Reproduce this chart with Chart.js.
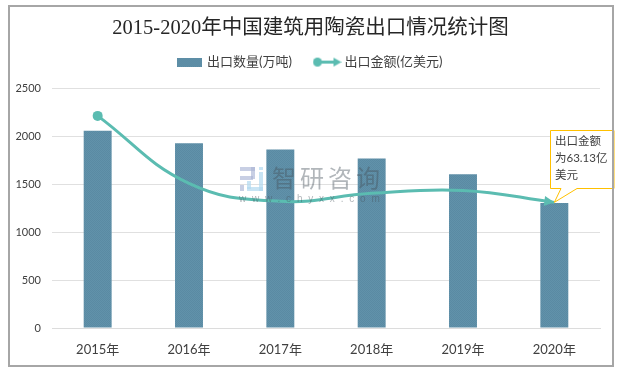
<!DOCTYPE html>
<html>
<head>
<meta charset="utf-8">
<style>
html, body { margin: 0; padding: 0; background: #fff; }
#wrap { position: relative; width: 618px; height: 371px; overflow: hidden; }
#frame { position: absolute; left: 8px; top: 5px; width: 602px; height: 358px; border: 2px solid #a6a6a6; pointer-events: none; }
</style>
<script src="https://cdn.jsdelivr.net/npm/chart.js@4/dist/chart.umd.js"></script>
</head>
<body>
<div id="wrap">
	<canvas id="myChart" width="618" height="371"></canvas>
	<div id="frame"></div>
</div>
<script>
const categories = ["2015年", "2016年", "2017年", "2018年", "2019年", "2020年"];
const quantity = [2060, 1930, 1865, 1770, 1605, 1305];
const amount = [2215, 1510, 1323, 1406, 1437, 1312];
const yTicks = [0, 500, 1000, 1500, 2000, 2500];
const calloutLines = ["出口金额", "为63.13亿", "美元"];
const seriesNames = ["出口数量(万吨)", "出口金额(亿美元)"];
const chartTitle = "2015-2020年中国建筑用陶瓷出口情况统计图";

const teal = "#5bbcb1";
const sans = "Lato, 'Noto Sans CJK SC', sans-serif";

function barPattern() {
	const c = document.createElement("canvas");
	c.width = 2; c.height = 2;
	const g = c.getContext("2d");
	g.fillStyle = "#6192aa";
	g.fillRect(0, 0, 2, 2);
	g.fillStyle = "#5a8aa3";
	g.fillRect(0, 0, 1, 1);
	g.fillRect(1, 1, 1, 1);
	return document.createElement("canvas").getContext("2d").createPattern(c, "repeat");
}
const pattern = barPattern();

// legend swatches
function barSwatch() {
	const c = document.createElement("canvas");
	c.width = 25; c.height = 9;
	const g = c.getContext("2d");
	g.fillStyle = pattern;
	g.fillRect(0, 0, 25, 9);
	return c;
}
function lineSwatch() {
	const c = document.createElement("canvas");
	c.width = 29; c.height = 11;
	const g = c.getContext("2d");
	g.fillStyle = teal;
	g.strokeStyle = teal;
	g.beginPath();
	g.arc(5, 5.5, 4.5, 0, Math.PI * 2);
	g.fill();
	g.lineWidth = 3;
	g.beginPath();
	g.moveTo(5, 5.5);
	g.lineTo(23, 5.5);
	g.stroke();
	g.beginPath();
	g.moveTo(29, 5.5);
	g.lineTo(21, 1);
	g.lineTo(21, 10);
	g.closePath();
	g.fill();
	return c;
}
const swatches = [barSwatch(), lineSwatch()];

const arrowHead = {
	id: "arrowHead",
	afterDatasetsDraw(chart) {
		const pts = chart.getDatasetMeta(0).data;
		const last = pts[pts.length - 1];
		const a = Math.atan2(last.y - last.cp1y, last.x - last.cp1x);
		const ctx = chart.ctx;
		ctx.save();
		ctx.translate(last.x, last.y);
		ctx.rotate(a);
		ctx.fillStyle = teal;
		ctx.beginPath();
		ctx.moveTo(0, 0);
		ctx.lineTo(-10, -5);
		ctx.lineTo(-10, 5);
		ctx.closePath();
		ctx.fill();
		ctx.restore();
	}
};

const watermark = {
	id: "watermark",
	afterDatasetsDraw(chart) {
		const ctx = chart.ctx;
		ctx.save();
		// logo
		ctx.fillStyle = "rgba(170,182,214,0.65)";
		ctx.fillRect(240, 167, 15, 4);
		ctx.fillRect(251, 167, 4, 12);
		ctx.fillRect(240, 176, 13, 4);
		ctx.fillRect(240, 185, 4, 6);
		ctx.fillStyle = "rgba(176,216,240,0.7)";
		ctx.fillRect(259, 167, 4, 3);
		ctx.fillRect(259, 172, 4, 19);
		ctx.fillRect(247, 187, 16, 4);
		ctx.fillRect(247, 181, 4, 8);
		// name
		ctx.fillStyle = "rgba(70,80,90,0.42)";
		ctx.textAlign = "left";
		ctx.textBaseline = "middle";
		ctx.font = "24px 'Noto Sans CJK SC'";
		ctx.letterSpacing = "4px";
		ctx.fillText("智研咨询", 272, 178);
		ctx.font = "10px 'Liberation Sans'";
		ctx.letterSpacing = "5.8px";
		ctx.fillText("www.chyxx.com", 239, 199);
		ctx.restore();
	}
};

const callout = {
	id: "callout",
	afterDatasetsDraw(chart) {
		const pts = chart.getDatasetMeta(0).data;
		const tip = pts[pts.length - 1];
		const ctx = chart.ctx;
		const left = 550, top = 130, right = 614, bottom = 188;
		ctx.save();
		ctx.fillStyle = "#fff";
		ctx.strokeStyle = "#ffc000";
		ctx.lineWidth = 1;
		ctx.beginPath();
		ctx.moveTo(left + 0.5, top + 0.5);
		ctx.lineTo(right, top + 0.5);
		ctx.lineTo(right, bottom + 0.5);
		ctx.lineTo(577, bottom + 0.5);
		ctx.lineTo(tip.x, tip.y);
		ctx.lineTo(561, bottom + 0.5);
		ctx.lineTo(left + 0.5, bottom + 0.5);
		ctx.closePath();
		ctx.fill();
		ctx.stroke();
		ctx.fillStyle = "#404040";
		ctx.font = "11.5px " + sans;
		ctx.textAlign = "left";
		ctx.textBaseline = "middle";
		calloutLines.forEach((t, i) => ctx.fillText(t, 555, 141 + i * 17));
		ctx.restore();
	}
};

new Chart(document.getElementById("myChart"), {
	data: {
		labels: categories,
		datasets: [
			{
				type: "line",
				label: seriesNames[1],
				data: amount,
				borderColor: teal,
				backgroundColor: teal,
				borderWidth: 3,
				tension: 0.42,
				pointRadius: [5, 0, 0, 0, 0, 0],
				pointBackgroundColor: teal,
				pointBorderWidth: 0,
				order: 0
			},
			{
				type: "bar",
				label: seriesNames[0],
				data: quantity,
				backgroundColor: pattern,
				categoryPercentage: 1,
				barPercentage: 0.306,
				order: 1
			}
		]
	},
	plugins: [watermark, callout, arrowHead],
	options: {
		responsive: false,
		animation: false,
		layout: { padding: { top: 0, right: 0, bottom: 0, left: 3 } },
		plugins: {
			title: {
				display: true,
				text: chartTitle,
				color: "#262626",
				font: { family: "'Liberation Serif', 'Noto Sans CJK SC', serif", size: 20.5, weight: "normal" },
				padding: { top: 16, bottom: -9 }
			},
			legend: {
				display: true,
				labels: {
					usePointStyle: true,
					pointStyleWidth: 22,
					color: "#404040",
					font: { family: sans, size: 13 },
					padding: 24,
					generateLabels(chart) {
						return seriesNames.map((name, i) => ({
							text: name,
							pointStyle: swatches[i],
							fontColor: "#404040",
							datasetIndex: name === seriesNames[0] ? 1 : 0,
							hidden: false,
							lineWidth: 0
						}));
					}
				}
			},
			tooltip: { enabled: false }
		},
		scales: {
			x: {
				grid: { display: false },
				border: { display: true, color: "#dcdcdc", width: 1 },
				ticks: { color: "#404040", font: { family: sans, size: 13 }, padding: 6, maxRotation: 0 },
				afterFit(s) { s.height = 43; }
			},
			y: {
				min: 0,
				max: 2500,
				afterBuildTicks(s) { s.ticks = yTicks.map(v => ({ value: v })); },
				grid: { color: "#e0e0e0", drawTicks: false },
				border: { display: false },
				ticks: { color: "#404040", font: { family: sans, size: 11 }, padding: 11, callback: v => String(v) },
				afterFit(s) { s.width = 49; }
			},
			// empty margins, so title and legend stay centred on the whole canvas
			marginRight: {
				type: "linear",
				position: "right",
				grid: { display: false },
				border: { display: false },
				ticks: { display: false },
				afterFit(s) { s.width = 18; }
			},
			marginTop: {
				type: "linear",
				position: "top",
				grid: { display: false },
				border: { display: false },
				ticks: { display: false },
				afterFit(s) { s.height = 10; }
			}
		}
	}
});
</script>
</body>
</html>
